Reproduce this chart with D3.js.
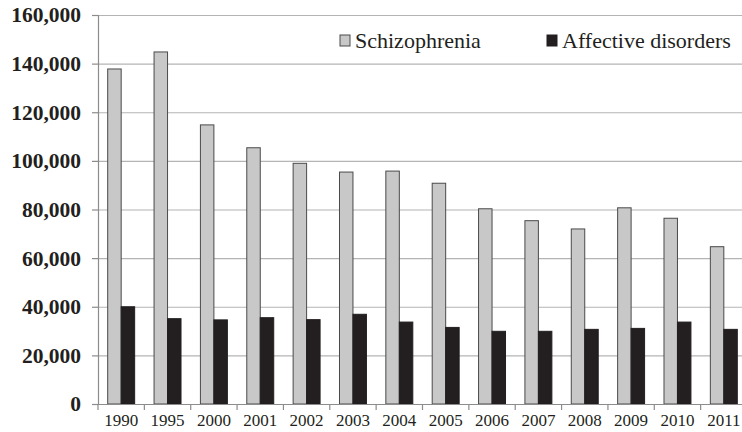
<!DOCTYPE html>
<html lang='en'>
  <head>
    <meta charset='utf-8'>
    <script src='https://cdnjs.cloudflare.com/ajax/libs/d3/7.8.5/d3.min.js'></script>
    <style>
      body { margin: 0; background: #fff; }
      svg { display: block; font-family: 'Liberation Serif', 'Times New Roman', serif; }
    </style>
  </head>
  <body>
    <div id='chart'></div>
    <script type='text/javascript'>

      // data
      var years = ['1990', '1995', '2000', '2001', '2002', '2003', '2004',
                   '2005', '2006', '2007', '2008', '2009', '2010', '2011'];
      var seriesNames = ['Schizophrenia', 'Affective disorders'];
      var schizophrenia = [137800, 144800, 114800, 105400, 99000, 95400, 95800,
                           90800, 80300, 75400, 72000, 80700, 76400, 64700];
      var affective = [40000, 35100, 34600, 35500, 34700, 36900, 33700,
                       31500, 29900, 29900, 30700, 31100, 33700, 30700];
      var yTicks = [0, 20000, 40000, 60000, 80000, 100000, 120000, 140000, 160000];

      var colors = ['#c8c8c8', '#231f20'];

      var svgWidth = 742;
      var svgHeight = 432;

      var leftBuffer = 98;
      var rightEdge = 747;
      var topBuffer = 15;
      var bottomY = 404;

      var svg = d3.select('#chart').append('svg')
                  .attr('width', svgWidth)
                  .attr('height', svgHeight);

      // scales
      var yScale = d3.scaleLinear()
                     .domain([0, 160000])
                     .range([bottomY, topBuffer]);

      var xScale = d3.scaleBand()
                     .domain(years)
                     .range([leftBuffer, rightEdge])
                     .padding(0);

      var xInner = d3.scaleBand()
                     .domain(seriesNames)
                     .range([0, xScale.bandwidth()])
                     .paddingInner(0)
                     .paddingOuter(0.72);

      // gridlines
      svg.append('g')
         .attr('class', 'grid')
         .attr('transform', 'translate(' + leftBuffer + ',0)')
         .call(d3.axisLeft(yScale)
                 .tickValues(yTicks)
                 .tickSize(-(svgWidth - leftBuffer))
                 .tickFormat(''))
         .call(function(g) {
           g.select('.domain').remove();
           g.selectAll('line').attr('stroke', '#b4b4b4').attr('stroke-width', 1.2);
         });

      // y axis
      svg.append('g')
         .attr('class', 'yAxis')
         .attr('transform', 'translate(' + leftBuffer + ',0)')
         .call(d3.axisLeft(yScale)
                 .tickValues(yTicks)
                 .tickSize(6)
                 .tickPadding(11)
                 .tickFormat(d3.format(',')))
         .call(function(g) {
           g.select('.domain').attr('stroke', '#8c8c8c').attr('stroke-width', 1.2);
           g.selectAll('line').attr('stroke', '#8c8c8c').attr('stroke-width', 1.2);
           g.selectAll('text')
            .attr('fill', '#231f20')
            .style('font-family', "'Liberation Serif', serif")
            .style('font-size', '21.5px')
            .style('font-weight', 'bold');
         });

      // bars
      var groups = svg.selectAll('.year')
                      .data(years)
                      .enter().append('g')
                      .attr('class', 'year')
                      .attr('transform', function(d) { return 'translate(' + xScale(d) + ',0)'; });

      groups.selectAll('rect')
            .data(function(d, i) {
              return [{ name: seriesNames[0], value: schizophrenia[i] },
                      { name: seriesNames[1], value: affective[i] }];
            })
            .enter().append('rect')
            .attr('x', function(d) { return xInner(d.name); })
            .attr('y', function(d) { return yScale(d.value); })
            .attr('width', xInner.bandwidth())
            .attr('height', function(d) { return bottomY - yScale(d.value); })
            .attr('fill', function(d, i) { return colors[i]; })
            .attr('stroke', function(d, i) { return i === 0 ? '#4a4a4a' : '#231f20'; })
            .attr('stroke-width', 1);

      // x axis
      svg.append('g')
         .attr('class', 'xAxis')
         .attr('transform', 'translate(0,' + bottomY + ')')
         .call(d3.axisBottom(xScale).tickSize(0).tickPadding(10))
         .call(function(g) {
           g.select('.domain').attr('stroke', '#8c8c8c').attr('stroke-width', 1.2);
           g.selectAll('text')
            .attr('fill', '#231f20')
            .style('font-family', "'Liberation Serif', serif")
            .style('font-size', '17px');
         });

      // x axis tick marks between categories
      svg.append('g')
         .selectAll('line')
         .data(years)
         .enter().append('line')
         .attr('x1', function(d) { return xScale(d); })
         .attr('x2', function(d) { return xScale(d); })
         .attr('y1', bottomY)
         .attr('y2', bottomY + 6)
         .attr('stroke', '#8c8c8c')
         .attr('stroke-width', 1.2);

      // legend
      var legendX = [340, 547];
      var legend = svg.selectAll('.legend')
                      .data(seriesNames)
                      .enter().append('g')
                      .attr('class', 'legend')
                      .attr('transform', function(d, i) { return 'translate(' + legendX[i] + ',35)'; });

      legend.append('rect')
            .attr('width', 10)
            .attr('height', 11)
            .attr('fill', function(d, i) { return colors[i]; })
            .attr('stroke', function(d, i) { return i === 0 ? '#4a4a4a' : '#231f20'; });

      legend.append('text')
            .attr('x', 15)
            .attr('y', 13)
            .attr('fill', '#231f20')
            .style('font-size', '22px')
            .text(function(d) { return d; });

    </script>
  </body>
</html>
